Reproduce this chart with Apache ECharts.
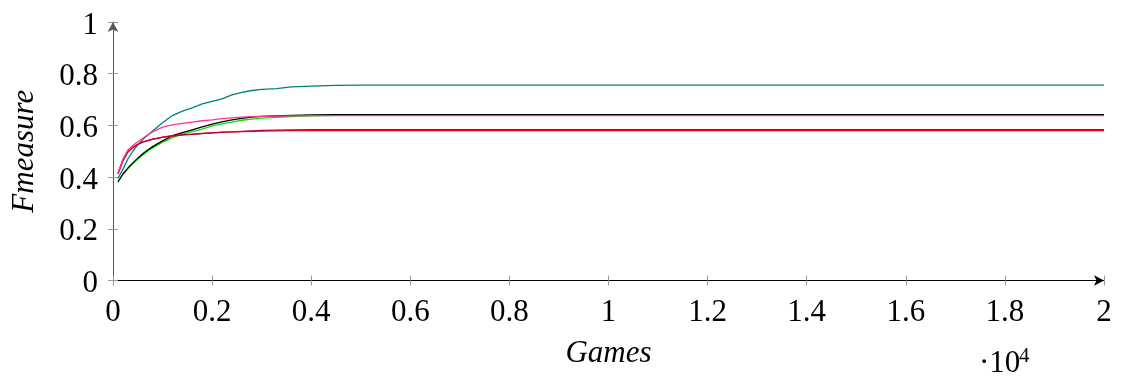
<!DOCTYPE html>
<html>
<head>
<meta charset="utf-8">
<script src="https://cdn.jsdelivr.net/npm/echarts@6/dist/echarts.min.js"></script>
<style>
  html, body { margin: 0; padding: 0; background: #fff; }
  #chart { width: 1121px; height: 383px; }
</style>
</head>
<body>
<div id="chart"></div>
<script>
// Number of games played (x axis)
const games = [100, 200, 300, 400, 500, 600, 700, 800, 1000, 1200, 1400, 1600, 1800, 2000,
  2200, 2400, 2600, 2800, 3000, 3300, 3600, 4000, 4500, 5000, 6000, 8000, 10000,
  12000, 14000, 16000, 18000, 20000];

// F-measure per run
const tealRun = [0.395, 0.43, 0.47, 0.50, 0.525, 0.545, 0.562, 0.578, 0.61, 0.638, 0.655, 0.668,
  0.683, 0.693, 0.703, 0.718, 0.728, 0.735, 0.739, 0.742, 0.749, 0.752, 0.755, 0.756, 0.756,
  0.756, 0.756, 0.756, 0.756, 0.756, 0.756, 0.756];
const pinkRun = [0.416, 0.47, 0.505, 0.522, 0.537, 0.55, 0.563, 0.575, 0.593, 0.602, 0.608, 0.613,
  0.618, 0.621, 0.626, 0.629, 0.632, 0.634, 0.635, 0.636, 0.637, 0.638, 0.638, 0.638, 0.638,
  0.638, 0.638, 0.638, 0.638, 0.638, 0.638, 0.638];
const redRun = [0.413, 0.465, 0.498, 0.515, 0.527, 0.535, 0.541, 0.546, 0.554, 0.559, 0.563, 0.566,
  0.569, 0.571, 0.573, 0.575, 0.576, 0.577, 0.578, 0.579, 0.580, 0.580, 0.580, 0.580, 0.580,
  0.580, 0.580, 0.580, 0.580, 0.580, 0.580, 0.580];
const purpleRun = [0.412, 0.463, 0.497, 0.514, 0.526, 0.535, 0.542, 0.547, 0.555, 0.560, 0.563, 0.565,
  0.568, 0.571, 0.574, 0.575, 0.577, 0.579, 0.581, 0.582, 0.583, 0.584, 0.584, 0.584, 0.584,
  0.584, 0.584, 0.584, 0.584, 0.584, 0.584, 0.584];
const greenRun = [0.38, 0.41, 0.433, 0.452, 0.47, 0.485, 0.50, 0.513, 0.535, 0.553, 0.566, 0.576,
  0.586, 0.598, 0.606, 0.613, 0.620, 0.624, 0.628, 0.631, 0.634, 0.637, 0.639, 0.640, 0.640,
  0.640, 0.640, 0.640, 0.640, 0.640, 0.640, 0.640];
const blackRun = [0.382, 0.412, 0.435, 0.455, 0.473, 0.49, 0.505, 0.518, 0.54, 0.56, 0.572, 0.583,
  0.594, 0.605, 0.614, 0.621, 0.627, 0.632, 0.635, 0.637, 0.639, 0.641, 0.642, 0.642, 0.642,
  0.642, 0.642, 0.642, 0.642, 0.642, 0.642, 0.642];

const runs = [
  { name: 'teal',   values: tealRun,   color: '#008080' },
  { name: 'green',  values: greenRun,  color: '#00e600' },
  { name: 'black',  values: blackRun,  color: '#000000' },
  { name: 'red',    values: redRun,    color: '#ff0000' },
  { name: 'purple', values: purpleRun, color: '#bf0040' },
  { name: 'pink',   values: pinkRun,   color: '#ff3399' }
];

const serif = 'Liberation Serif';
const fs = 31;
const chart = echarts.init(document.getElementById('chart'), null, { renderer: 'canvas' });

chart.setOption({
  animation: false,
  backgroundColor: '#ffffff',
  grid: { left: 113, right: 17, top: 22, bottom: 102.5, containLabel: false, outerBoundsMode: 'none' },
  xAxis: [{
    type: 'value', min: 0, max: 20000, interval: 2000,
    name: 'Games', nameLocation: 'middle', nameGap: 58,
    nameTextStyle: { fontFamily: serif, fontStyle: 'italic', fontSize: fs, color: '#000' },
    axisLine: { show: true, lineStyle: { color: '#000', width: 1 }, symbol: ['none', 'arrow'], symbolSize: [8, 10] },
    axisTick: { show: true, inside: true, length: 5, lineStyle: { color: '#999' } },
    axisLabel: { fontFamily: serif, fontSize: fs, color: '#000', margin: 17,
      formatter: v => String(+(v / 10000).toFixed(1)) },
    splitLine: { show: false }
  }, {
    type: 'value', min: 0, max: 20000, interval: 2000, position: 'bottom',
    axisLine: { show: false }, axisLabel: { show: false }, splitLine: { show: false },
    axisTick: { show: true, inside: false, length: 5, lineStyle: { color: '#999' } }
  }],
  yAxis: [{
    type: 'value', min: 0, max: 1, interval: 0.2,
    name: 'Fmeasure', nameLocation: 'middle', nameGap: 73,
    nameTextStyle: { fontFamily: serif, fontStyle: 'italic', fontSize: fs, color: '#000' },
    axisLine: { show: true, lineStyle: { color: '#555', width: 1 }, symbol: ['none', 'arrow'], symbolSize: [8, 10] },
    axisTick: { show: true, inside: true, length: 5, lineStyle: { color: '#999' } },
    axisLabel: { fontFamily: serif, fontSize: fs, color: '#000', margin: 15,
      verticalAlign: 'top', lineHeight: 7,
      formatter: v => String(+v.toFixed(1)) },
    splitLine: { show: false }
  }, {
    type: 'value', min: 0, max: 1, interval: 0.2, position: 'left',
    axisLine: { show: false }, axisLabel: { show: false }, splitLine: { show: false },
    axisTick: { show: true, inside: false, length: 5, lineStyle: { color: '#999' } }
  }],
  graphic: [{
    type: 'text', left: 979, top: 348,
    style: { text: '·10', font: fs + 'px "Liberation Serif"', fill: '#000' }
  }, {
    type: 'text', left: 1019, top: 346,
    style: { text: '4', font: '21px "Liberation Serif"', fill: '#000' }
  }],
  series: runs.map(r => ({
    name: r.name, type: 'line', showSymbol: false, smooth: false,
    xAxisIndex: 0, yAxisIndex: 0,
    lineStyle: { color: r.color, width: 1.3 },
    itemStyle: { color: r.color },
    data: games.map((g, i) => [g, r.values[i]])
  }))
});
</script>
</body>
</html>
